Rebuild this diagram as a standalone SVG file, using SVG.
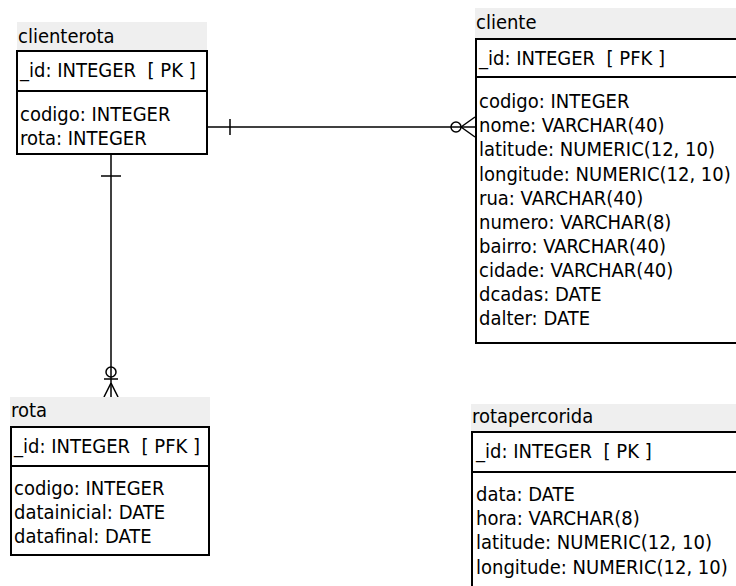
<svg xmlns="http://www.w3.org/2000/svg" width="736" height="586" viewBox="0 0 736 586" xml:space="preserve">
<style>
.hdr{fill:#efefef;stroke:none}
.box{fill:#fff;stroke:#000;stroke-width:2}
.sep{stroke:#000;stroke-width:2}
text{font-family:"DejaVu Sans Condensed","DejaVu Sans",sans-serif;font-stretch:condensed;font-size:20px;fill:#000;white-space:pre}
.c{stroke:#000;stroke-width:1.5;fill:none}
</style>
<rect width="736" height="586" fill="#fff"/>
<g id="connectors">
<line class="c" x1="207" y1="127" x2="475" y2="127"/>
<line class="c" x1="230" y1="119" x2="230" y2="135"/>
<circle class="c" cx="456" cy="127" r="5" fill="#fff"/>
<line class="c" x1="461" y1="127" x2="475" y2="117"/>
<line class="c" x1="461" y1="127" x2="475" y2="137"/>
<line class="c" x1="111" y1="155" x2="111" y2="398"/>
<line class="c" x1="101" y1="176" x2="121" y2="176"/>
<circle class="c" cx="111" cy="372" r="5" fill="#fff"/>
<line class="c" x1="104" y1="379" x2="118" y2="379"/>
<line class="c" x1="111" y1="383" x2="104" y2="397"/>
<line class="c" x1="111" y1="383" x2="118" y2="397"/>
</g>
<g id="clienterota">
<rect class="hdr" x="17" y="22" width="190" height="29"/>
<text x="18" y="43">clienterota</text>
<rect class="box" x="17" y="51" width="190" height="103"/>
<line class="sep" x1="17" y1="91" x2="207" y2="91"/>
<text x="20" y="77">_id: INTEGER  [ PK ]</text>
<text x="20" y="121">codigo: INTEGER</text>
<text x="20" y="145">rota: INTEGER</text>
</g>
<g id="cliente">
<rect class="hdr" x="475" y="8" width="265" height="30"/>
<text x="476" y="29">cliente</text>
<rect class="box" x="476" y="39" width="270" height="304"/>
<line class="sep" x1="476" y1="77" x2="740" y2="77"/>
<text x="479" y="65">_id: INTEGER  [ PFK ]</text>
<text x="479" y="108">codigo: INTEGER</text>
<text x="479" y="132">nome: VARCHAR(40)</text>
<text x="479" y="156">latitude: NUMERIC(12, 10)</text>
<text x="479" y="181">longitude: NUMERIC(12, 10)</text>
<text x="479" y="205">rua: VARCHAR(40)</text>
<text x="479" y="229">numero: VARCHAR(8)</text>
<text x="479" y="253">bairro: VARCHAR(40)</text>
<text x="479" y="277">cidade: VARCHAR(40)</text>
<text x="479" y="301">dcadas: DATE</text>
<text x="479" y="325">dalter: DATE</text>
</g>
<g id="rota">
<rect class="hdr" x="10" y="397" width="200" height="29"/>
<text x="11" y="417">rota</text>
<rect class="box" x="11" y="427" width="198" height="128"/>
<line class="sep" x1="11" y1="466" x2="209" y2="466"/>
<text x="14" y="453">_id: INTEGER  [ PFK ]</text>
<text x="14" y="495">codigo: INTEGER</text>
<text x="14" y="519">datainicial: DATE</text>
<text x="14" y="543">datafinal: DATE</text>
</g>
<g id="rotapercorida">
<rect class="hdr" x="471" y="404" width="269" height="27"/>
<text x="472" y="423">rotapercorida</text>
<rect class="box" x="472" y="432" width="270" height="170"/>
<line class="sep" x1="472" y1="472" x2="742" y2="472"/>
<text x="476" y="458">_id: INTEGER  [ PK ]</text>
<text x="476" y="501">data: DATE</text>
<text x="476" y="525">hora: VARCHAR(8)</text>
<text x="476" y="549">latitude: NUMERIC(12, 10)</text>
<text x="476" y="574">longitude: NUMERIC(12, 10)</text>
</g>
</svg>
